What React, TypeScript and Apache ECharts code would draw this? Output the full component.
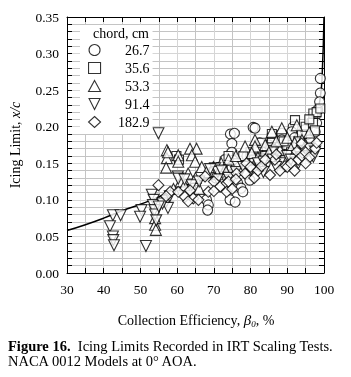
import React, { useEffect, useRef } from 'react';
import * as echarts from 'echarts';

const FONT = "'Liberation Serif', 'DejaVu Serif', serif";

const chordLabels = ['26.7', '35.6', '53.3', '91.4', '182.9'];

const chord267: [number, number][] = [
  [74.5, 0.19], [75.6, 0.191], [80.7, 0.199], [74.9, 0.177], [74.9, 0.165], [75.2, 0.154], [74.9, 0.143],
  [75.2, 0.131], [76.5, 0.123], [77.4, 0.116], [77.9, 0.111], [74.4, 0.1], [75.8, 0.097],
  [68, 0.1], [68.5, 0.093], [68.3, 0.086], [77, 0.145], [78, 0.14], [79, 0.135], [79.8, 0.127],
  [99, 0.266], [99, 0.246], [98.8, 0.234], [98.3, 0.223], [97.6, 0.214], [96.7, 0.207], [96.2, 0.198],
  [94.8, 0.196], [91.6, 0.2], [91.2, 0.193], [88.5, 0.191], [88.5, 0.182], [88.5, 0.17], [83.9, 0.17],
  [84.4, 0.157], [81.2, 0.198], [82, 0.165], [86, 0.16], [90, 0.18], [90, 0.168], [92, 0.185],
  [93, 0.172], [93.9, 0.182], [95.3, 0.189], [97.6, 0.193], [84, 0.15], [86, 0.182], [82.5, 0.178],
  [70, 0.14], [72, 0.145], [73, 0.155], [81, 0.152], [83, 0.145], [89, 0.155], [91, 0.16], [92, 0.17],
  [96, 0.182], [98, 0.205], [70.5, 0.13], [72.5, 0.138], [79, 0.16], [85, 0.175], [87, 0.168],
  [94, 0.175], [95.5, 0.17], [80.5, 0.145]
];

const chord356: [number, number][] = [
  [92.1, 0.209], [97.1, 0.218], [85.8, 0.184], [85.8, 0.19], [98, 0.22], [80, 0.165], [82, 0.17],
  [78, 0.16], [88, 0.172], [90, 0.175], [94, 0.19], [95, 0.2], [76, 0.15], [72, 0.145], [84, 0.16],
  [91, 0.165], [93, 0.18], [97, 0.205], [86, 0.168], [89, 0.18], [74, 0.16], [81, 0.155],
  [97.5, 0.195], [99, 0.225], [59.8, 0.16], [60.5, 0.155], [70, 0.138], [87, 0.158], [92.5, 0.172],
  [96, 0.21], [83, 0.178]
];

const chord533: [number, number][] = [
  [57.2, 0.168], [57.2, 0.157], [57, 0.144], [60.3, 0.161], [60.3, 0.152], [63.5, 0.17], [65.3, 0.17],
  [64, 0.161], [64.9, 0.152], [63, 0.136], [66.7, 0.145], [69.9, 0.145], [68, 0.138],
  [54, 0.075], [54, 0.066], [54.2, 0.059], [61, 0.125], [62, 0.12], [65, 0.13], [72, 0.15],
  [74, 0.155], [76, 0.16], [78.5, 0.173], [81.2, 0.182], [81.2, 0.173], [80.3, 0.164], [82, 0.158],
  [84, 0.175], [85.8, 0.193], [88.5, 0.198], [92.6, 0.202], [88, 0.168], [90, 0.185], [92, 0.178],
  [94, 0.182], [96, 0.192], [85, 0.165], [79, 0.15], [71, 0.135], [66, 0.115], [59, 0.115],
  [91, 0.17], [57.5, 0.165], [87, 0.18], [95, 0.175], [73, 0.142]
];

const chord914: [number, number][] = [
  [54.9, 0.191], [42.5, 0.079], [44.6, 0.079], [41.7, 0.064], [42.5, 0.05], [42.6, 0.045], [42.8, 0.038],
  [51.5, 0.037], [50.3, 0.086], [49.9, 0.077], [53.1, 0.107], [53.6, 0.1], [53.4, 0.093], [53.8, 0.086],
  [54, 0.08], [54.3, 0.072], [57.1, 0.098], [57.5, 0.089], [60.2, 0.132], [60.3, 0.129], [62, 0.128],
  [64, 0.12], [66, 0.125], [70.3, 0.143], [71.1, 0.138], [72, 0.14], [74, 0.13], [76, 0.138],
  [78, 0.145], [80, 0.14], [82, 0.15], [83.5, 0.152], [83.5, 0.138], [86, 0.155], [88, 0.15],
  [90, 0.16], [93, 0.15], [94, 0.158], [96, 0.17], [97.6, 0.166], [97.1, 0.159], [69, 0.142],
  [71, 0.128], [58, 0.105], [56, 0.095], [55, 0.091], [91, 0.155], [87, 0.145]
];

const chord1829: [number, number][] = [
  [54.9, 0.12], [58.1, 0.111], [60.3, 0.111], [63.5, 0.113], [62.1, 0.104], [64.4, 0.102], [65.8, 0.1],
  [67.6, 0.132], [68.5, 0.111], [71.7, 0.118], [73.5, 0.123], [73.5, 0.111], [76.2, 0.136],
  [78.9, 0.15], [78.5, 0.136], [63, 0.098], [70, 0.125], [74, 0.125], [76, 0.128], [80, 0.145],
  [82, 0.14], [83, 0.146], [85.3, 0.134], [86.6, 0.155], [89.4, 0.146], [92.6, 0.166], [93, 0.155],
  [93.9, 0.177], [97.6, 0.17], [88, 0.14], [90, 0.145], [91, 0.15], [92, 0.14], [94, 0.16],
  [95, 0.165], [96, 0.158], [98, 0.178], [81, 0.13], [75, 0.115], [70, 0.112], [57, 0.105],
  [84, 0.155], [87, 0.162], [95, 0.15]
];

const curve: [number, number][] = [
  [30, 0.058], [35, 0.066], [40, 0.075], [45, 0.085], [50, 0.094], [55, 0.104], [60, 0.116],
  [65, 0.124], [70, 0.133], [75, 0.142], [80, 0.152], [85, 0.162], [90, 0.173], [93, 0.182],
  [95, 0.19], [97, 0.203], [98, 0.215], [99, 0.24], [99.5, 0.27], [100, 0.35]
];

const symbols = ['circle', 'rect', 'triangle', 'path://M0,0L10,0L5,10Z', 'diamond'];
const sizes = [10, 9, 11, 11, 11];
const seriesData = [chord267, chord356, chord533, chord914, chord1829];

export default function App() {
  const ref = useRef<HTMLDivElement>(null);
  useEffect(() => {
    if (!ref.current) return;
    const chart = echarts.init(ref.current, undefined, { renderer: 'svg' });
    const hollow = { color: '#fff', borderColor: '#000', borderWidth: 1.1 };
    const axisCommon = {
      type: 'value' as const,
      axisLine: { show: true, onZero: false, lineStyle: { color: '#000', width: 1 } },
      axisTick: { show: true, inside: true, length: 5, lineStyle: { color: '#000' } },
    };
    chart.setOption({
      animation: false,
      grid: { left: 67, right: 27, top: 17, bottom: 104 },
      xAxis: [
        {
          ...axisCommon, min: 30, max: 100, interval: 10, position: 'bottom',
          minorTick: { show: true, splitNumber: 2, length: 5, lineStyle: { color: '#000' } },
          axisLabel: { fontFamily: FONT, fontSize: 13.5, color: '#000', margin: 9 },
          splitLine: { show: true, lineStyle: { color: '#d6d6d6', width: 1 } },
          minorSplitLine: { show: true, lineStyle: { color: '#c4c4c4', width: 1 } },
        },
        {
          ...axisCommon, min: 30, max: 100, interval: 10, position: 'top',
          minorTick: { show: true, splitNumber: 2, length: 5, lineStyle: { color: '#000' } },
          axisLabel: { show: false }, splitLine: { show: false },
        },
      ],
      yAxis: [
        {
          ...axisCommon, min: 0, max: 0.35, interval: 0.05, position: 'left',
          minorTick: { show: true, splitNumber: 5, length: 5, lineStyle: { color: '#000' } },
          axisLabel: { fontFamily: FONT, fontSize: 13.5, color: '#000', margin: 8, formatter: (v: number) => v.toFixed(2) },
          splitLine: { show: true, lineStyle: { color: '#d6d6d6', width: 1 } },
          minorSplitLine: { show: true, lineStyle: { color: '#c4c4c4', width: 1 } },
        },
        {
          ...axisCommon, min: 0, max: 0.35, interval: 0.05, position: 'right',
          minorTick: { show: true, splitNumber: 5, length: 5, lineStyle: { color: '#000' } },
          axisLabel: { show: false }, splitLine: { show: false },
        },
      ],
      legend: {
        orient: 'vertical', left: 80, top: 25, padding: [18, 3, 5, 8],
        backgroundColor: '#fff', itemGap: 4, itemWidth: 12, itemHeight: 11,
        selectedMode: false, z: 10,
        formatter: '{a|{name}}',
        textStyle: {
          fontFamily: FONT, fontSize: 14, color: '#000', lineHeight: 13,
          rich: { a: { width: 44, align: 'right', fontFamily: FONT, fontSize: 14, lineHeight: 13, color: '#000' } },
        },
        data: chordLabels.map((n, i) => ({ name: n, icon: symbols[i], itemStyle: hollow })),
      },
      graphic: [
        { type: 'text', x: 121, y: 33, z: 100, style: { text: 'chord, cm', fontFamily: FONT, fontSize: 14, fill: '#000', align: 'center', verticalAlign: 'middle' } },
        {
          type: 'text', x: 15, y: 145, rotation: Math.PI / 2,
          style: {
            text: 'Icing Limit, {i|x/c}', fontFamily: FONT, fontSize: 14, fill: '#000', align: 'center', verticalAlign: 'middle',
            rich: { i: { fontStyle: 'italic', fontFamily: FONT, fontSize: 14, fill: '#000' } },
          },
        },
        {
          type: 'text', x: 196, y: 320,
          style: {
            text: 'Collection Efficiency, {i|β}{s|0}, %', fontFamily: FONT, fontSize: 14, fill: '#000', align: 'center', verticalAlign: 'middle',
            rich: {
              i: { fontStyle: 'italic', fontFamily: FONT, fontSize: 15, fill: '#000' },
              s: { fontStyle: 'italic', fontFamily: FONT, fontSize: 9, fill: '#000', padding: [7, 0, 0, 0] },
            },
          },
        },
        {
          type: 'text', x: 8, y: 346,
          style: {
            text: '{b|Figure 16.}  Icing Limits Recorded in IRT Scaling Tests.', fontFamily: FONT, fontSize: 14.5, fill: '#000', verticalAlign: 'middle',
            rich: { b: { fontWeight: 'bold', fontFamily: FONT, fontSize: 14.5, fill: '#000' } },
          },
        },
        {
          type: 'text', x: 8, y: 361,
          style: { text: 'NACA 0012 Models at 0° AOA.', fontFamily: FONT, fontSize: 14.5, fill: '#000', verticalAlign: 'middle' },
        },
      ],
      series: [
        {
          type: 'line', data: curve, showSymbol: false, symbol: 'none', smooth: true,
          lineStyle: { color: '#000', width: 1.5 }, z: 1,
        },
        ...seriesData.map((d, i) => ({
          type: 'scatter', name: chordLabels[i], data: d, symbol: symbols[i], symbolSize: sizes[i],
          itemStyle: hollow, z: 3,
        })),
      ],
    });
    return () => chart.dispose();
  }, []);
  return <div ref={ref} style={{ position: 'fixed', left: 0, top: 0, width: 351, height: 377 }} />;
}
